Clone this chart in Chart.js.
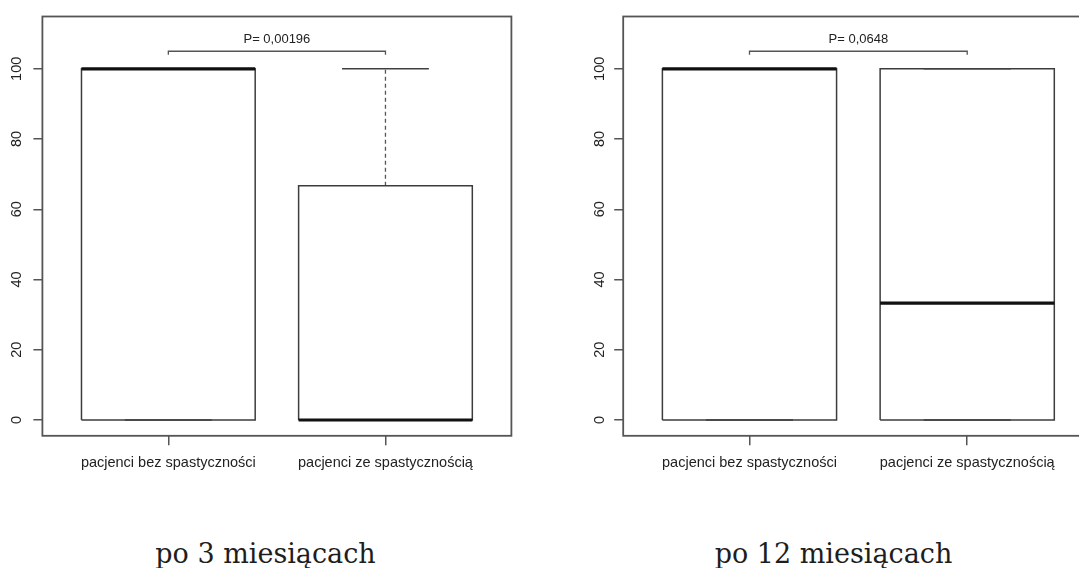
<!DOCTYPE html>
<html>
<head>
<meta charset="utf-8">
<script src="https://cdn.jsdelivr.net/npm/chart.js@4.4.1/dist/chart.umd.min.js"></script>
<style>
  html, body { margin: 0; padding: 0; background: #fff; overflow: hidden; width: 1079px; height: 568px; }
  #wrap { position: relative; width: 1079px; height: 568px; overflow: hidden; }
  canvas { position: absolute; top: 0; }
  #c1 { left: 0; }
  #c2 { left: 540px; }
  .title { position: absolute; top: 540px; width: 400px; text-align: center;
           font-family: "DejaVu Serif", serif; font-size: 27px; line-height: 27px; color: #1e1e1e; }
  #t1 { left: 65.5px; }
  #t2 { left: 633.5px; }
</style>
</head>
<body>
<div id="wrap">
  <canvas id="c1" width="540" height="480"></canvas>
  <canvas id="c2" width="560" height="480"></canvas>
  <div class="title" id="t1"></div>
  <div class="title" id="t2"></div>
</div>
<script>
// Groups, panel titles and test results
const categories = ['pacjenci bez spastyczności', 'pacjenci ze spastycznością'];
const periods = ['po 3 miesiącach', 'po 12 miesiącach'];
const pLabels = ['P= 0,00196', 'P= 0,0648'];
const yTicks = [0, 20, 40, 60, 80, 100];

// Five-number summaries after 3 months: [bez, ze]
const min3 = [0, 0];
const q1_3 = [0, 0];
const med3 = [100, 0];
const q3_3 = [100, 66.7];
const max3 = [100, 100];

// Five-number summaries after 12 months: [bez, ze]
const min12 = [0, 0];
const q1_12 = [0, 0];
const med12 = [100, 33.3];
const q3_12 = [100, 100];
const max12 = [100, 100];

const SANS = '"Liberation Sans", Arial, Helvetica, sans-serif';
const BOX_HALF = 0.4;
const STAPLE_HALF = 0.2;

// Horizontal segments centred on each group position (x = 1, 2, ...)
function hSegments(vals, halfWidth) {
  const pts = [];
  vals.forEach((v, i) => {
    const c = i + 1;
    pts.push({ x: c - halfWidth, y: v }, { x: c + halfWidth, y: v }, { x: c + 0.5, y: null });
  });
  return pts;
}

// Vertical whisker segments from the box edge to the extreme
function whiskers(from, to) {
  const pts = [];
  from.forEach((v, i) => {
    const c = i + 1;
    pts.push({ x: c, y: v }, { x: c, y: to[i] }, { x: c + 0.01, y: null });
  });
  return pts;
}

// Closed rectangle outline from Q1 to Q3 for each group
function boxOutlines(q1s, q3s) {
  const pts = [];
  q1s.forEach((q, i) => {
    const c = i + 1;
    pts.push(
      { x: c - BOX_HALF, y: q }, { x: c - BOX_HALF, y: q3s[i] },
      { x: c + BOX_HALF, y: q3s[i] }, { x: c + BOX_HALF, y: q },
      { x: c - BOX_HALF, y: q }, { x: c + 0.5, y: null }
    );
  });
  return pts;
}

function boxDatasets(mins, q1s, meds, q3s, maxs) {
  const lineBase = { type: 'line', pointRadius: 0, fill: false, tension: 0, spanGaps: false };
  return [
    {
      type: 'bar', order: 5,
      data: q1s.map((q, i) => ({ x: i + 1, y: [q, q3s[i]] })),
      backgroundColor: '#ffffff', borderWidth: 0,
      barPercentage: BOX_HALF * 2, categoryPercentage: 1
    },
    Object.assign({}, lineBase, {
      order: 4, data: whiskers(q3s, maxs).concat(whiskers(q1s, mins)),
      borderColor: '#555555', borderWidth: 1.3, borderDash: [4, 3]
    }),
    Object.assign({}, lineBase, {
      order: 3, data: boxOutlines(q1s, q3s),
      borderColor: '#3c3c3c', borderWidth: 1.5, borderJoinStyle: 'miter'
    }),
    Object.assign({}, lineBase, {
      order: 2, data: hSegments(maxs, STAPLE_HALF).concat(hSegments(mins, STAPLE_HALF)),
      borderColor: '#404040', borderWidth: 1.6
    }),
    Object.assign({}, lineBase, {
      order: 1, data: hSegments(meds, BOX_HALF),
      borderColor: '#111111', borderWidth: 3.2
    })
  ];
}

// Frame, rotated y labels and the significance bracket
const rPlot = {
  id: 'rPlot',
  afterDraw(chart, args, opts) {
    const { ctx, chartArea: a, scales: { x, y } } = chart;
    ctx.save();
    ctx.strokeStyle = '#555555';
    ctx.lineWidth = 1.8;
    ctx.strokeRect(a.left, a.top, a.right - a.left, a.bottom - a.top);

    ctx.fillStyle = '#222222';
    ctx.font = '14.5px ' + SANS;
    ctx.textAlign = 'center';
    ctx.textBaseline = 'alphabetic';
    y.ticks.forEach(t => {
      const py = y.getPixelForValue(t.value);
      ctx.save();
      ctx.translate(a.left - opts.labelGap + 5.2, py);
      ctx.rotate(-Math.PI / 2);
      ctx.fillText(String(t.value), 0, 0);
      ctx.restore();
    });

    const x1 = x.getPixelForValue(1), x2 = x.getPixelForValue(2);
    const yb = y.getPixelForValue(105), yt = y.getPixelForValue(104);
    ctx.strokeStyle = '#555555';
    ctx.lineWidth = 1.3;
    ctx.beginPath();
    ctx.moveTo(x1, yt); ctx.lineTo(x1, yb); ctx.lineTo(x2, yb); ctx.lineTo(x2, yt);
    ctx.stroke();
    ctx.font = '13px ' + SANS;
    ctx.textBaseline = 'middle';
    ctx.fillText(opts.label, (x1 + x2) / 2, y.getPixelForValue(108.5));
    ctx.restore();
  }
};

function makeChart(id, stats, pLabel, axisWidth, padRight, labelGap) {
  return new Chart(document.getElementById(id), {
    type: 'bar',
    data: { datasets: boxDatasets.apply(null, stats) },
    options: {
      responsive: false,
      animation: false,
      devicePixelRatio: 1,
      layout: { padding: { top: 16.5, right: padRight, bottom: 0, left: 0 } },
      plugins: {
        legend: { display: false },
        tooltip: { enabled: false },
        rPlot: { label: pLabel, labelGap: labelGap }
      },
      scales: {
        x: {
          type: 'linear', min: 0.42, max: 2.58, offset: false,
          afterBuildTicks: s => { s.ticks = categories.map((c, i) => ({ value: i + 1 })); },
          afterFit: s => { s.height = 44.2; },
          grid: { offset: false, drawOnChartArea: false, drawTicks: true, tickLength: 9.5, color: '#555555', lineWidth: 1.5 },
          border: { display: false },
          ticks: {
            autoSkip: false, maxRotation: 0, minRotation: 0, padding: 8.5, color: '#222222',
            font: { family: SANS, size: 14.5 },
            callback: v => categories[v - 1]
          }
        },
        y: {
          type: 'linear', min: -4.5, max: 114.9,
          afterBuildTicks: s => { s.ticks = yTicks.map(v => ({ value: v })); },
          afterFit: s => { s.width = axisWidth; },
          grid: { drawOnChartArea: false, drawTicks: true, tickLength: 9, color: '#555555', lineWidth: 1.5 },
          border: { display: false },
          ticks: { display: false }
        }
      }
    },
    plugins: [rPlot]
  });
}

makeChart('c1', [min3, q1_3, med3, q3_3, max3], pLabels[0], 42.4, 28.6, 26.9);
makeChart('c2', [min12, q1_12, med12, q3_12, max12], pLabels[1], 83.2, 6.5, 24.8);

document.getElementById('t1').textContent = periods[0];
document.getElementById('t2').textContent = periods[1];
</script>
</body>
</html>
